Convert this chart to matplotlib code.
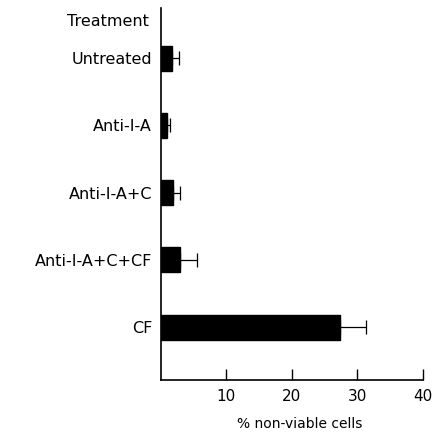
import numpy as np
import matplotlib
matplotlib.use("Agg")
import matplotlib.pyplot as plt

# Data
treatments = ["Untreated", "Anti-I-A", "Anti-I-A+C", "Anti-I-A+C+CF", "CF"]
nonviable = [1.8, 1.0, 1.9, 3.0, 27.4]
sem = [1.0, 0.5, 1.1, 2.5, 3.9]
xticks = [10, 20, 30, 40]

plt.rcParams['font.family'] = ['DejaVu Sans']

fig = plt.figure(figsize=(4.35, 4.34), dpi=100)
ax = fig.add_axes([0.369, 0.124, 0.603, 0.858])

pos = np.arange(len(treatments))
ax.barh(pos, nonviable, height=0.37, color='black', edgecolor='black')
ax.errorbar(nonviable, pos, xerr=[np.zeros(len(sem)), sem], fmt='none',
            ecolor='black', elinewidth=0.9, capsize=5, capthick=0.9)

ax.set_xlim(0, 40)
ax.set_ylim(4.79, -0.75)
ax.set_yticks(pos)
ax.set_yticklabels(treatments, fontsize=11.5)
ax.tick_params(axis='y', length=0, pad=6)
ax.set_xticks(xticks)
ax.set_xticklabels([str(t) for t in xticks], fontsize=11)
ax.tick_params(axis='x', direction='in', length=8, width=1.0, pad=6)

ax.spines['top'].set_visible(False)
ax.spines['right'].set_visible(False)
ax.spines['left'].set_linewidth(1.2)
ax.spines['bottom'].set_linewidth(1.2)

ax.text(-1.7, -0.55, "Treatment", ha='right', va='center', fontsize=11.5)
ax.set_xlabel("% non-viable cells", fontsize=10, labelpad=8)
ax.xaxis.set_label_coords(0.53, -0.10)

fig.savefig("out.png", dpi=100)
